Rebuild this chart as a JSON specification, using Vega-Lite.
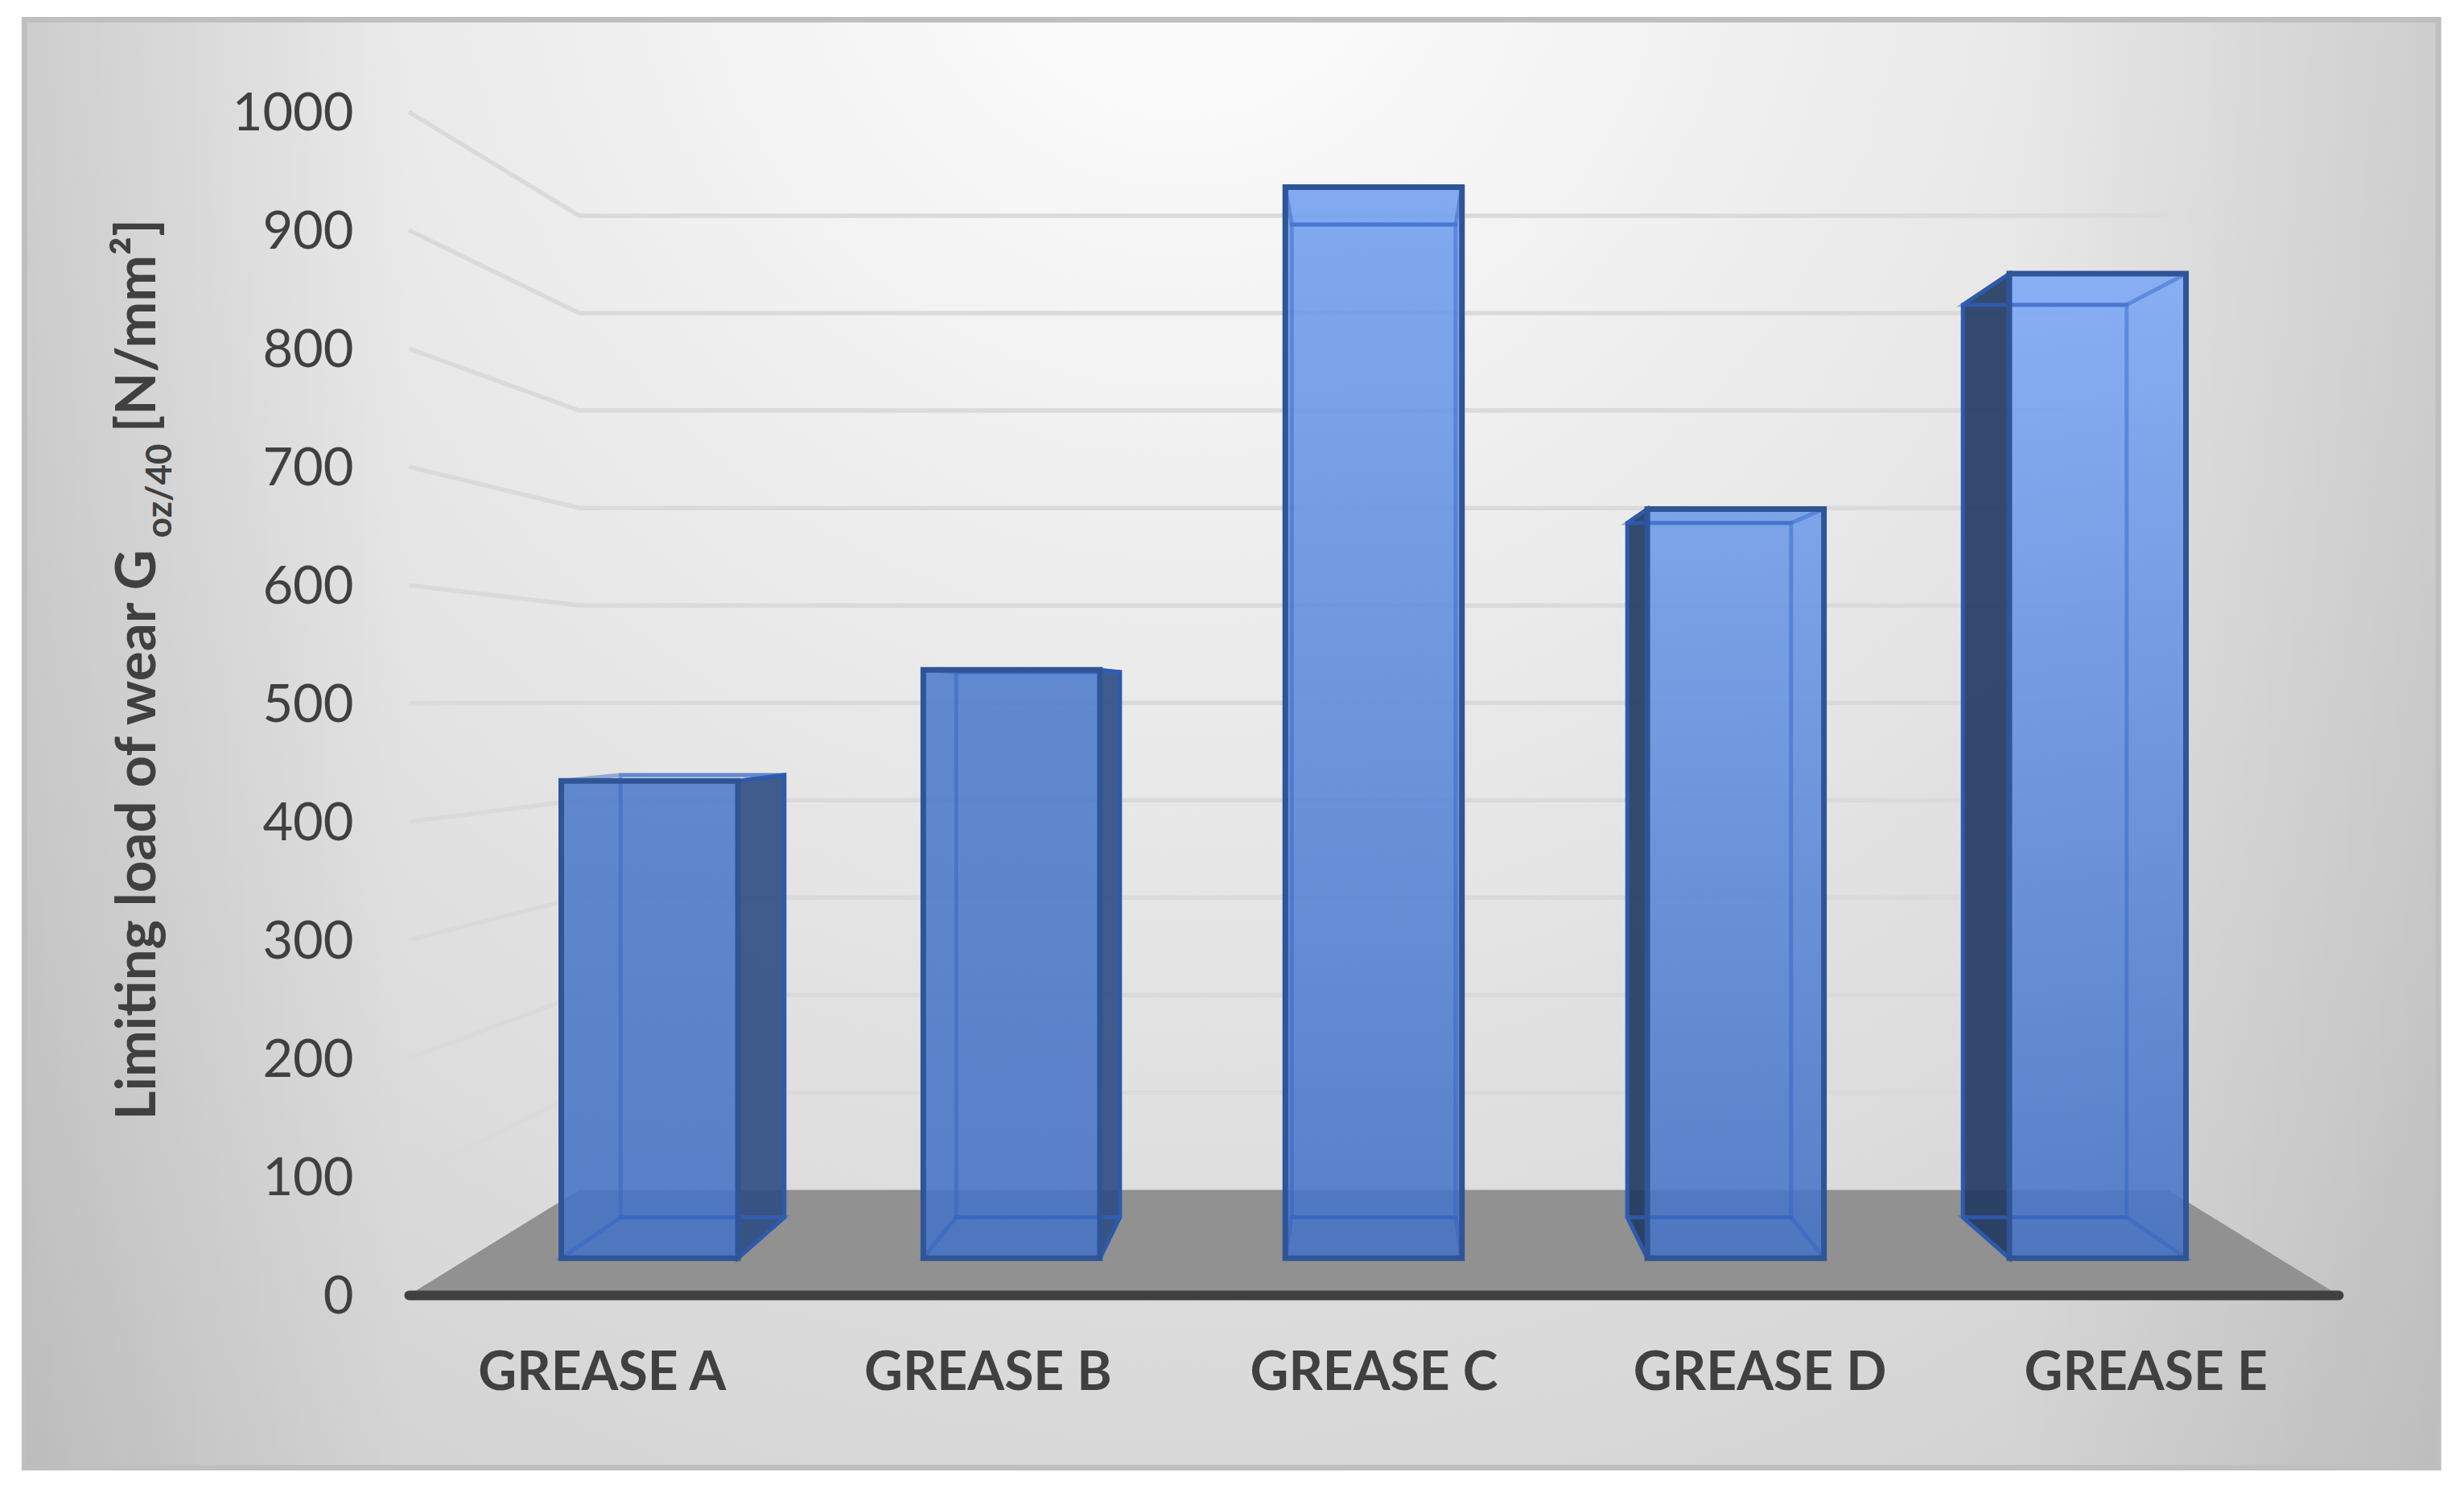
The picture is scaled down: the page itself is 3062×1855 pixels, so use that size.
{"$schema":"https://vega.github.io/schema/vega-lite/v6.json","width":2398,"height":1470,"autosize":{"type":"none"},"padding":{"left":508,"right":156,"top":139,"bottom":246},"background":"#FFFFFF","config":{"view":{"stroke":null}},
"datasets":{"bars":[{"grease":"GREASE A","value":430},{"grease":"GREASE B","value":530},{"grease":"GREASE C","value":965},{"grease":"GREASE D","value":675},{"grease":"GREASE E","value":887}],"ticks":[{"value":0},{"value":100},{"value":200},{"value":300},{"value":400},{"value":500},{"value":600},{"value":700},{"value":800},{"value":900},{"value":1000}],"panel":[{"part":"panel"}]},
"encoding":{"x":{"field":"px","type":"quantitative","scale":{"domain":[-2.5,2.5],"nice":false,"zero":false},"axis":{"values":[-2,-1,0,1,2],"labelExpr":"'GREASE ' + ['A','B','C','D','E'][datum.value+2]","title":null,"grid":false,"ticks":false,"domain":true,"domainColor":"#404040","domainWidth":12,"domainCap":"round","labelFont":"Lato","labelFontWeight":"bold","labelFontSize":66,"labelLimit":800,"labelColor":"#404040","labelPadding":65,"labelFlush":false,"labelOverlap":false,"zindex":1}},"y":{"field":"py","type":"quantitative","stack":null,"scale":{"domain":[0,1000],"nice":false,"zero":false},"axis":{"values":[0,100,200,300,400,500,600,700,800,900,1000],"format":"d","title":null,"grid":false,"ticks":false,"domain":false,"labelFont":"Lato","labelFontWeight":400,"labelFontSize":65,"labelColor":"#404040","labelPadding":69,"labelOffset":2,"labelOverlap":false,"zindex":1}}},
"layer":[
{"data":{"name":"panel"},"transform":[{"calculate":"-3.496","as":"px"},{"calculate":"2.759","as":"px2"},{"calculate":"1077.9","as":"py"},{"calculate":"-145.9","as":"py2"}],"mark":{"type":"rect","fill":{"gradient":"radial","x1":0.48,"y1":0.15,"x2":0.48,"y2":0.15,"r1":0,"r2":0.95,"stops":[{"offset":0,"color":"#FFFFFF"},{"offset":0.3,"color":"#EDEDED"},{"offset":0.65,"color":"#DADADA"},{"offset":1,"color":"#C6C6C6"}]}},"encoding":{"x2":{"field":"px2"},"y2":{"field":"py2"}}},
{"data":{"name":"panel"},"transform":[{"calculate":"-3.496","as":"px"},{"calculate":"2.759","as":"px2"},{"calculate":"1077.9","as":"py"},{"calculate":"-145.9","as":"py2"}],"mark":{"type":"rect","fill":{"gradient":"linear","x1":0,"y1":0,"x2":1,"y2":0,"stops":[{"offset":0,"color":"rgba(0,0,0,0.09)"},{"offset":0.16,"color":"rgba(0,0,0,0)"},{"offset":0.82,"color":"rgba(0,0,0,0)"},{"offset":1,"color":"rgba(0,0,0,0.08)"}]}},"encoding":{"x2":{"field":"px2"},"y2":{"field":"py2"}}},
{"data":{"name":"panel"},"transform":[{"calculate":"-3.496","as":"px"},{"calculate":"2.759","as":"px2"},{"calculate":"1077.9","as":"py"},{"calculate":"-145.9","as":"py2"}],"mark":{"type":"rect","fill":null,"fillOpacity":0,"stroke":"#BFBFBF","strokeWidth":7},"encoding":{"x2":{"field":"px2"},"y2":{"field":"py2"}}},
{"data":{"name":"ticks"},"transform":[{"calculate":"[0,1,2]","as":"vertex"},{"flatten":["vertex"]},{"calculate":"datum.vertex==0?-2.5:(datum.vertex==1?-2.5*0.8234:2.5*0.8234)","as":"px"},{"calculate":"503+(datum.value-503)*(datum.vertex==0?1:0.8234)","as":"py"}],"mark":{"type":"line","stroke":"#DADADA","strokeWidth":5.5,"strokeJoin":"miter"},"encoding":{"detail":{"field":"value"},"order":{"field":"vertex"}}},
{"data":{"name":"panel"},"transform":[{"calculate":"[1,0.8234]","as":"d"},{"flatten":["d"]},{"calculate":"-2.5*datum.d","as":"px"},{"calculate":"2.5*datum.d","as":"px2"},{"calculate":"503-503*datum.d","as":"py"}],"mark":{"type":"area","orient":"horizontal","fill":"#919191"},"encoding":{"x":{"field":"px","type":"quantitative","stack":null,"scale":{"domain":[-2.5,2.5],"nice":false,"zero":false},"axis":{"values":[-2,-1,0,1,2],"labelExpr":"'GREASE ' + ['A','B','C','D','E'][datum.value+2]","title":null,"grid":false,"ticks":false,"domain":true,"domainColor":"#404040","domainWidth":12,"domainCap":"round","labelFont":"Lato","labelFontWeight":"bold","labelFontSize":66,"labelLimit":800,"labelColor":"#404040","labelPadding":65,"labelFlush":false,"labelOverlap":false,"zindex":1}},"x2":{"field":"px2"}}},
{"data":{"name":"bars"},"transform":[{"calculate":"indexof(['GREASE A','GREASE B','GREASE C','GREASE D','GREASE E'],datum.grease)-2","as":"c"},{"filter":"datum.c<0"},{"calculate":"[0.938,0.8695]","as":"d"},{"flatten":["d"]},{"calculate":"(datum.c+0.244)*datum.d","as":"px"},{"calculate":"503+(datum.value-503)*datum.d","as":"py"},{"calculate":"503-503*datum.d","as":"py2"}],"mark":{"type":"area","orient":"vertical","fill":"#2C4C82","fillOpacity":0.9,"stroke":"#2F5597","strokeWidth":5},"encoding":{"detail":{"field":"grease"},"y2":{"field":"py2"}}},
{"data":{"name":"bars"},"transform":[{"calculate":"indexof(['GREASE A','GREASE B','GREASE C','GREASE D','GREASE E'],datum.grease)-2","as":"c"},{"filter":"datum.c>0"},{"calculate":"[0.938,0.8695]","as":"d"},{"flatten":["d"]},{"calculate":"(datum.c-0.244)*datum.d","as":"px"},{"calculate":"503+(datum.value-503)*datum.d","as":"py"},{"calculate":"503-503*datum.d","as":"py2"}],"mark":{"type":"area","orient":"vertical","fill":"#1F3760","fillOpacity":0.9,"stroke":"#2F5597","strokeWidth":5},"encoding":{"detail":{"field":"grease"},"y2":{"field":"py2"}}},
{"data":{"name":"bars"},"transform":[{"filter":"datum.grease=='GREASE A'"},{"calculate":"indexof(['GREASE A','GREASE B','GREASE C','GREASE D','GREASE E'],datum.grease)-2","as":"c"},{"calculate":"(datum.c-0.244)*0.938","as":"px"},{"calculate":"(datum.c+0.244)*0.938","as":"px2"},{"calculate":"503+(datum.value-503)*0.938","as":"py"},{"calculate":"503-503*0.938","as":"py2"}],"mark":{"type":"rect","opacity":0.88,"fill":{"gradient":"linear","x1":0,"y1":0,"x2":0,"y2":1,"stops":[{"offset":0,"color":"#4E7BCA"},{"offset":1,"color":"#4573C5"}]}},"encoding":{"x2":{"field":"px2"},"y2":{"field":"py2"}}},
{"data":{"name":"bars"},"transform":[{"filter":"datum.grease=='GREASE B'"},{"calculate":"indexof(['GREASE A','GREASE B','GREASE C','GREASE D','GREASE E'],datum.grease)-2","as":"c"},{"calculate":"(datum.c-0.244)*0.938","as":"px"},{"calculate":"(datum.c+0.244)*0.938","as":"px2"},{"calculate":"503+(datum.value-503)*0.938","as":"py"},{"calculate":"503-503*0.938","as":"py2"}],"mark":{"type":"rect","opacity":0.88,"fill":{"gradient":"linear","x1":0,"y1":0,"x2":0,"y2":1,"stops":[{"offset":0,"color":"#4F7CCC"},{"offset":1,"color":"#4573C5"}]}},"encoding":{"x2":{"field":"px2"},"y2":{"field":"py2"}}},
{"data":{"name":"bars"},"transform":[{"filter":"datum.grease=='GREASE C'"},{"calculate":"indexof(['GREASE A','GREASE B','GREASE C','GREASE D','GREASE E'],datum.grease)-2","as":"c"},{"calculate":"(datum.c-0.244)*0.938","as":"px"},{"calculate":"(datum.c+0.244)*0.938","as":"px2"},{"calculate":"503+(datum.value-503)*0.938","as":"py"},{"calculate":"503-503*0.938","as":"py2"}],"mark":{"type":"rect","opacity":0.88,"fill":{"gradient":"linear","x1":0,"y1":0,"x2":0,"y2":1,"stops":[{"offset":0,"color":"#71A0F0"},{"offset":1,"color":"#4573C5"}]}},"encoding":{"x2":{"field":"px2"},"y2":{"field":"py2"}}},
{"data":{"name":"bars"},"transform":[{"filter":"datum.grease=='GREASE D'"},{"calculate":"indexof(['GREASE A','GREASE B','GREASE C','GREASE D','GREASE E'],datum.grease)-2","as":"c"},{"calculate":"(datum.c-0.244)*0.938","as":"px"},{"calculate":"(datum.c+0.244)*0.938","as":"px2"},{"calculate":"503+(datum.value-503)*0.938","as":"py"},{"calculate":"503-503*0.938","as":"py2"}],"mark":{"type":"rect","opacity":0.88,"fill":{"gradient":"linear","x1":0,"y1":0,"x2":0,"y2":1,"stops":[{"offset":0,"color":"#6E9BE9"},{"offset":1,"color":"#4573C5"}]}},"encoding":{"x2":{"field":"px2"},"y2":{"field":"py2"}}},
{"data":{"name":"bars"},"transform":[{"filter":"datum.grease=='GREASE E'"},{"calculate":"indexof(['GREASE A','GREASE B','GREASE C','GREASE D','GREASE E'],datum.grease)-2","as":"c"},{"calculate":"(datum.c-0.244)*0.938","as":"px"},{"calculate":"(datum.c+0.244)*0.938","as":"px2"},{"calculate":"503+(datum.value-503)*0.938","as":"py"},{"calculate":"503-503*0.938","as":"py2"}],"mark":{"type":"rect","opacity":0.88,"fill":{"gradient":"linear","x1":0,"y1":0,"x2":0,"y2":1,"stops":[{"offset":0,"color":"#7CA8F6"},{"offset":1,"color":"#4573C5"}]}},"encoding":{"x2":{"field":"px2"},"y2":{"field":"py2"}}},
{"data":{"name":"bars"},"transform":[{"calculate":"indexof(['GREASE A','GREASE B','GREASE C','GREASE D','GREASE E'],datum.grease)-2","as":"c"},{"calculate":"(datum.c-0.244)*0.8695","as":"px"},{"calculate":"(datum.c+0.244)*0.8695","as":"px2"},{"calculate":"503+(datum.value-503)*0.8695","as":"py"},{"calculate":"503-503*0.8695","as":"py2"}],"mark":{"type":"rect","fillOpacity":0,"stroke":"#2F62C4","strokeOpacity":0.45,"strokeWidth":5},"encoding":{"x2":{"field":"px2"},"y2":{"field":"py2"}}},
{"data":{"name":"bars"},"transform":[{"calculate":"indexof(['GREASE A','GREASE B','GREASE C','GREASE D','GREASE E'],datum.grease)-2","as":"c"},{"calculate":"[0.938,0.8695]","as":"d"},{"flatten":["d"]},{"calculate":"(datum.c-0.244)*datum.d","as":"px"},{"calculate":"(datum.c+0.244)*datum.d","as":"px2"},{"calculate":"503-503*datum.d","as":"py"}],"mark":{"type":"area","orient":"horizontal","fillOpacity":0,"fill":"#4573C5","stroke":"#2F62C4","strokeOpacity":0.45,"strokeWidth":5},"encoding":{"detail":{"field":"grease"},"x2":{"field":"px2"}}},
{"data":{"name":"bars"},"transform":[{"calculate":"indexof(['GREASE A','GREASE B','GREASE C','GREASE D','GREASE E'],datum.grease)-2","as":"c"},{"calculate":"[0.938,0.8695]","as":"d"},{"flatten":["d"]},{"calculate":"(datum.c-0.244)*datum.d","as":"px"},{"calculate":"(datum.c+0.244)*datum.d","as":"px2"},{"calculate":"503+(datum.value-503)*datum.d","as":"py"}],"mark":{"type":"area","orient":"horizontal","fillOpacity":0,"fill":"#4573C5","stroke":"#2F62C4","strokeOpacity":0.45,"strokeWidth":5},"encoding":{"detail":{"field":"grease"},"x2":{"field":"px2"}}},
{"data":{"name":"bars"},"transform":[{"calculate":"indexof(['GREASE A','GREASE B','GREASE C','GREASE D','GREASE E'],datum.grease)-2","as":"c"},{"calculate":"(datum.c-0.244)*0.938","as":"px"},{"calculate":"(datum.c+0.244)*0.938","as":"px2"},{"calculate":"503+(datum.value-503)*0.938","as":"py"},{"calculate":"503-503*0.938","as":"py2"}],"mark":{"type":"rect","fillOpacity":0,"stroke":"#2F5597","strokeWidth":7},"encoding":{"x2":{"field":"px2"},"y2":{"field":"py2"}}},
{"data":{"values":[{"label":"Limiting load of wear G"}]},"transform":[{"calculate":"-3.157","as":"px"},{"calculate":"148","as":"py"}],"mark":{"type":"text","angle":270,"align":"left","baseline":"alphabetic","font":"Lato","fontWeight":"bold","fontSize":69,"fill":"#404040"},"encoding":{"text":{"field":"label"}}},
{"data":{"values":[{"label":"oz/40"}]},"transform":[{"calculate":"-3.115","as":"px"},{"calculate":"640","as":"py"}],"mark":{"type":"text","angle":270,"align":"left","baseline":"alphabetic","font":"Lato","fontWeight":"bold","fontSize":44,"fill":"#404040"},"encoding":{"text":{"field":"label"}}},
{"data":{"values":[{"label":"[N/mm²]"}]},"transform":[{"calculate":"-3.157","as":"px"},{"calculate":"729","as":"py"}],"mark":{"type":"text","angle":270,"align":"left","baseline":"alphabetic","font":"Lato","fontWeight":"bold","fontSize":69,"fill":"#404040"},"encoding":{"text":{"field":"label"}}}
]}
